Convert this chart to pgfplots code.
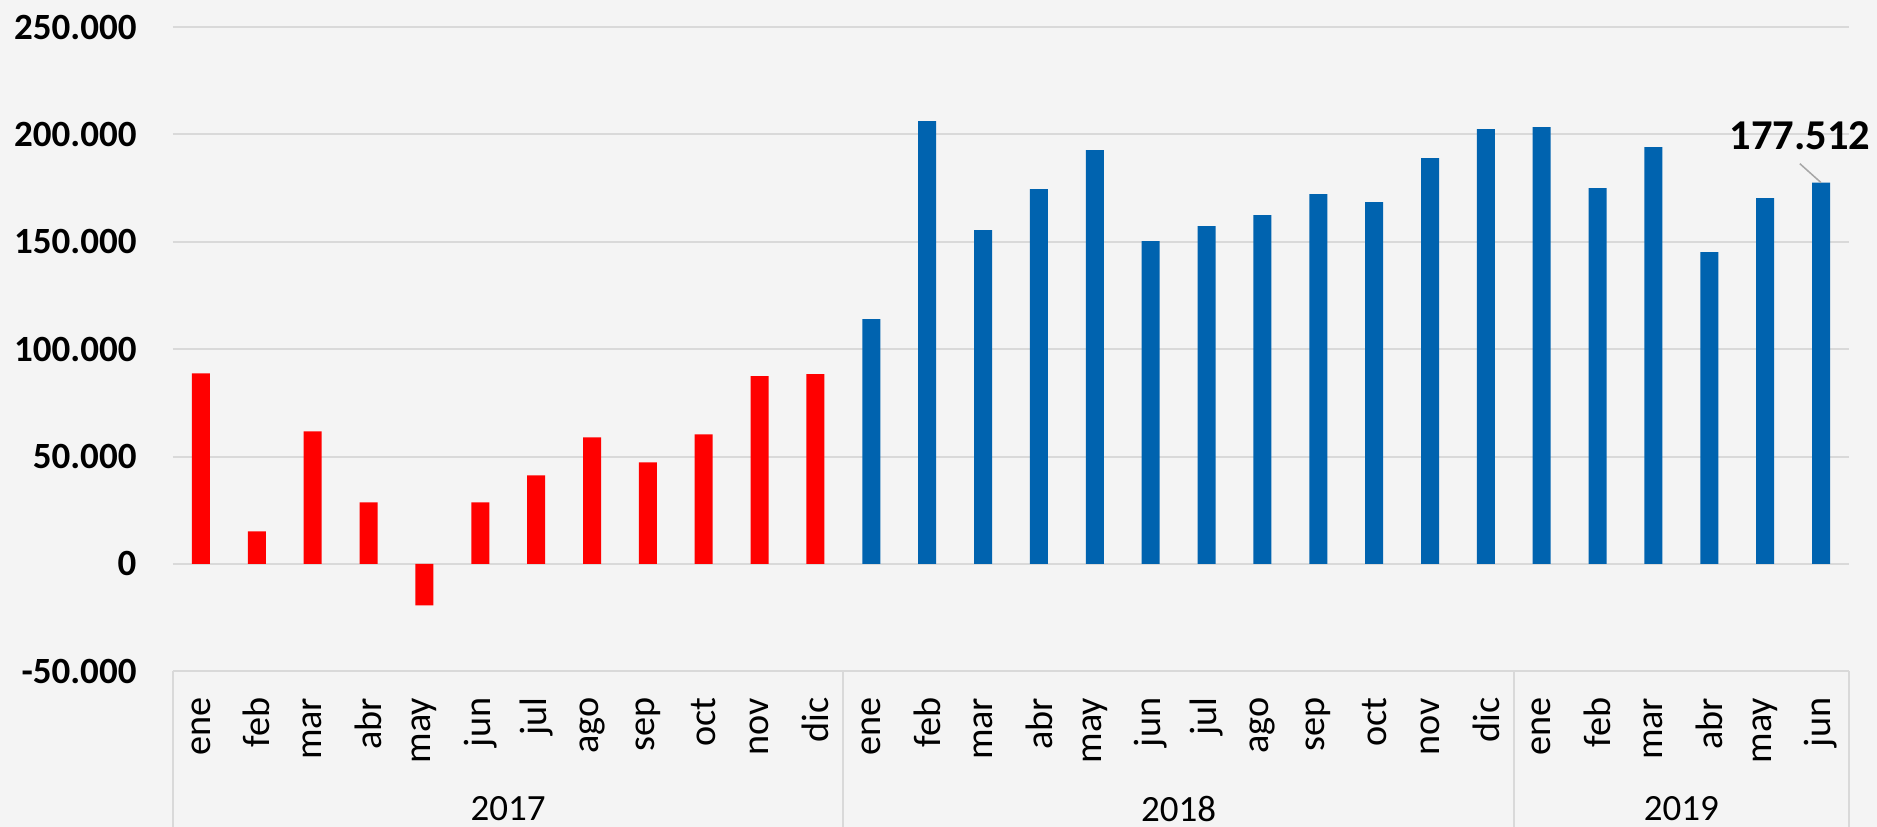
\documentclass[border=0pt]{standalone}
\usepackage{pgfplots}
\pgfplotsset{compat=1.18}
\usepackage{fontspec}
\setmainfont{Carlito}
\usetikzlibrary{backgrounds,calc}
\definecolor{bg}{RGB}{244,244,244}
\definecolor{gridc}{RGB}{217,217,217}
\definecolor{barred}{RGB}{255,0,0}
\definecolor{barblue}{RGB}{0,99,175}
\definecolor{leader}{RGB}{166,166,166}
\newcommand{\tfont}{\fontsize{14.8bp}{17bp}\selectfont}
\newcommand{\mfont}{\fontsize{15.3bp}{17bp}\selectfont}
\begin{document}
\begin{tikzpicture}
\begin{axis}[
  scale only axis, width=670.4bp, height=257.7bp,
  xmin=-0.5, xmax=29.5, ymin=-50000, ymax=250000,
  ybar, bar width=7.2bp,
  axis line style={draw=none},
  major tick length=0pt,
  scaled y ticks=false,
  ymajorgrids, grid style={draw=gridc, line width=0.8bp},
  ytick={-50000,0,50000,100000,150000,200000,250000},
  yticklabels={-50.000,0,50.000,100.000,150.000,200.000,250.000},
  yticklabel style={font=\tfont\bfseries, anchor=east, inner sep=0pt, xshift=-14.4bp},
  xtick={0,...,29},
  xticklabels={ene,feb,mar,abr,may,jun,jul,ago,sep,oct,nov,dic,ene,feb,mar,abr,may,jun,jul,ago,sep,oct,nov,dic,ene,feb,mar,abr,may,jun},
  xticklabel style={font=\mfont, yshift=-10.4bp, rotate=90, anchor=east, inner sep=0pt},
  clip=false,
]
\addplot[fill=barred, draw=none, bar shift=0pt] coordinates {
(0,88700) (1,15150) (2,61750) (3,28660) (4,-19340) (5,28660)
(6,41240) (7,58950) (8,47300) (9,60350) (10,87380) (11,88310)};
\addplot[fill=barblue, draw=none, bar shift=0pt] coordinates {
(12,113940) (13,206200) (14,155400) (15,174500) (16,192690) (17,150290)
(18,157270) (19,162400) (20,172180) (21,168450) (22,188960) (23,202480)
(24,203410) (25,174980) (26,194090) (27,145160) (28,170320) (29,177512)};
\coordinate (O) at (rel axis cs:0,0);
\draw[gridc, line width=0.8bp] (axis cs:-0.5,-50000) -- ++(0pt,-62.3bp);
\draw[gridc, line width=0.8bp] (axis cs:11.5,-50000) -- ++(0pt,-62.3bp);
\draw[gridc, line width=0.8bp] (axis cs:23.5,-50000) -- ++(0pt,-62.3bp);
\draw[gridc, line width=0.8bp] (axis cs:29.5,-50000) -- ++(0pt,-62.3bp);
\node[font=\tfont, yshift=-55bp] at (axis cs:5.5,-50000) {2017};
\node[font=\tfont, yshift=-55bp] at (axis cs:17.5,-50000) {2018};
\node[font=\tfont, yshift=-55bp] at (axis cs:26.5,-50000) {2019};
\draw[leader, line width=0.6bp] (axis cs:29,177512) -- ++(-8.5bp,7.6bp);
\node[font=\fontsize{17bp}{20bp}\selectfont\bfseries, xshift=-8.4bp, yshift=18.8bp] at (axis cs:29,177512) {177.512};
\end{axis}
\pgfresetboundingbox
\path[use as bounding box] ($(O)+(-69.2bp,-62.3bp)$) rectangle ++(750.8bp,330.8bp);
\begin{scope}[on background layer]
\fill[bg] ($(O)+(-69.2bp,-62.3bp)$) rectangle ++(750.8bp,330.8bp);
\end{scope}
\end{tikzpicture}
\end{document}
